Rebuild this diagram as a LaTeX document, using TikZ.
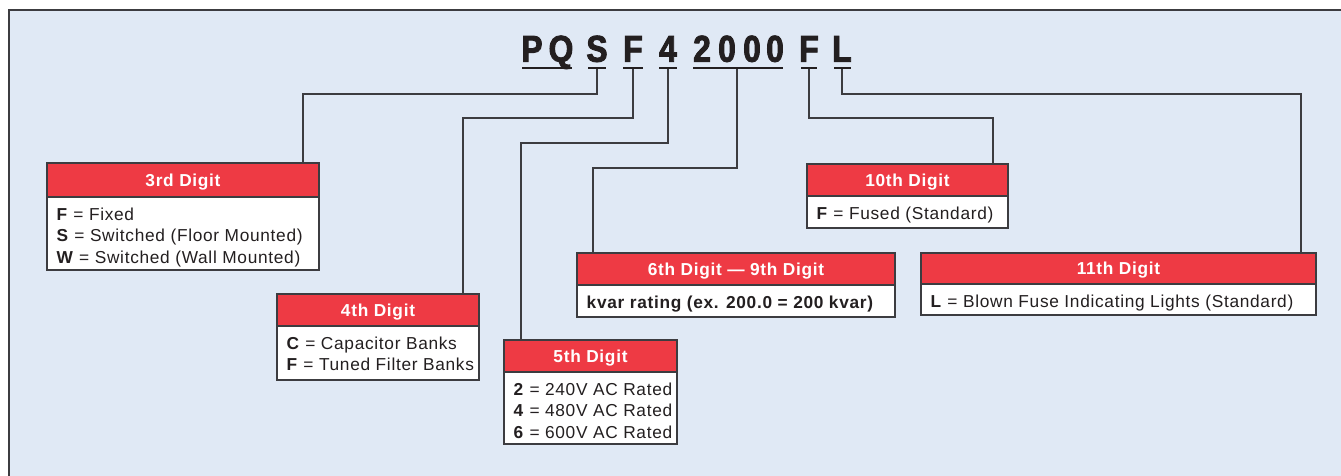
\documentclass[tikz,border=0pt]{standalone}
\usepackage{fontspec}
\setmainfont{Liberation Sans}[LetterSpace=4]
\newfontfamily\titlefont{Liberation Sans Bold}[FakeStretch=0.85,FakeBold=2.5]
\definecolor{bg}{RGB}{224,233,245}
\definecolor{hred}{RGB}{238,58,68}
\definecolor{ink}{RGB}{35,31,32}
\definecolor{lin}{RGB}{60,60,64}
\tikzset{
  hdr/.style={draw=lin, line width=1.3pt, fill=hred, text=white, inner sep=0pt, outer sep=0pt,
    font=\fontsize{17.3}{20}\selectfont\bfseries, anchor=north west, text depth=0pt},
  bdy/.style={draw=lin, line width=1.3pt, fill=white, inner sep=0pt, outer sep=0pt, anchor=north west},
  btxt/.style={text=ink, inner sep=0pt, anchor=north west, align=left,
    font=\fontsize{17.3}{21.5}\selectfont},
  ttl/.style={text=ink, inner sep=0pt, anchor=base, font=\fontsize{37.3}{40}\titlefont},
  uline/.style={draw=ink, line width=2.7pt},
  conn/.style={draw=lin, line width=1.4pt},
}
\newcommand\digitbox[8]{%
  \pgfmathsetmacro\dbw{#5-#2}%
  \pgfmathsetmacro\dbh{#4-#3}%
  \pgfmathsetmacro\dbb{#6-#4}%
  \node[hdr, minimum width=\dbw pt, minimum height=\dbh pt] (#1h) at (#2,#3) {#7};
  \node[bdy, minimum width=\dbw pt, minimum height=\dbb pt] (#1b) at (#2,#4) {};
  \node[btxt, xshift=9.5pt, yshift=-10pt] (#1t) at (#1b.north west) {\rule{0pt}{13pt}#8};
}
\begin{document}
\begin{tikzpicture}[x=1pt,y=-1pt]
\useasboundingbox (0,0) rectangle (1341,476);
\fill[white] (0,0) rectangle (1341,476);
\draw[draw=lin, fill=bg, line width=1.3pt] (9,10) rectangle (1380,500);

% code letters
\foreach \xx/\ll/\nn in {532/P/lP,561/Q/lQ,597/S/lS,633/F/lF,668/4/lf,702/2/ltwo,727/0/lza,752/0/lzb,775/0/lzc,809/F/lFF,842/L/lL}
  \node[ttl] (\nn) at (\xx,61.7) {\ll};

% underlines
\draw[uline] (522,68) -- (572,68);
\draw[uline] (588,68) -- (606,68);
\draw[uline] (623,68) -- (643,68);
\draw[uline] (659,68) -- (677,68);
\draw[uline] (693,68) -- (783,68);
\draw[uline] (801,68) -- (817,68);
\draw[uline] (834,68) -- (851,68);
\coordinate (uS) at (597,69);
\coordinate (uF) at (633,69);
\coordinate (uf) at (668,69);
\coordinate (uN) at (737,69);
\coordinate (uFF) at (809,69);
\coordinate (uL) at (842,69);

% boxes
\digitbox{d3}{47}{163}{197}{319}{270}{3rd Digit}{\textbf{F} = Fixed\\\textbf{S} = Switched (Floor Mounted)\\\textbf{W} = Switched (Wall Mounted)}
\digitbox{d4}{277}{294}{326}{479}{380}{4th Digit}{\textbf{C} = Capacitor Banks\\\textbf{F} = Tuned Filter Banks}
\digitbox{d5}{504}{340}{372}{677}{444}{5th Digit}{\textbf{2} = 240V AC Rated\\\textbf{4} = 480V AC Rated\\\textbf{6} = 600V AC Rated}
\digitbox{d6}{577}{253}{285}{895}{317}{6th Digit — 9th Digit}{\textbf{kvar rating (ex. 200.0 = 200 kvar)}}
\digitbox{d10}{807}{164}{196}{1008}{228}{10th Digit}{\textbf{F} = Fused (Standard)}
\digitbox{d11}{921}{253}{284}{1316}{315}{11th Digit}{\textbf{L} = Blown Fuse Indicating Lights (Standard)}

% connectors
\coordinate (k3) at (303,94);
\coordinate (k4) at (463,118);
\coordinate (k5) at (521,143);
\coordinate (k6) at (593,168);
\coordinate (k10) at (993,118);
\coordinate (k11) at (1301,94);
\draw[conn] (uS) |- (k3) -- (k3 |- d3h.north);
\draw[conn] (uF) |- (k4) -- (k4 |- d4h.north);
\draw[conn] (uf) |- (k5) -- (k5 |- d5h.north);
\draw[conn] (uN) |- (k6) -- (k6 |- d6h.north);
\draw[conn] (uFF) |- (k10) -- (k10 |- d10h.north);
\draw[conn] (uL) |- (k11) -- (k11 |- d11h.north);
\end{tikzpicture}
\end{document}
